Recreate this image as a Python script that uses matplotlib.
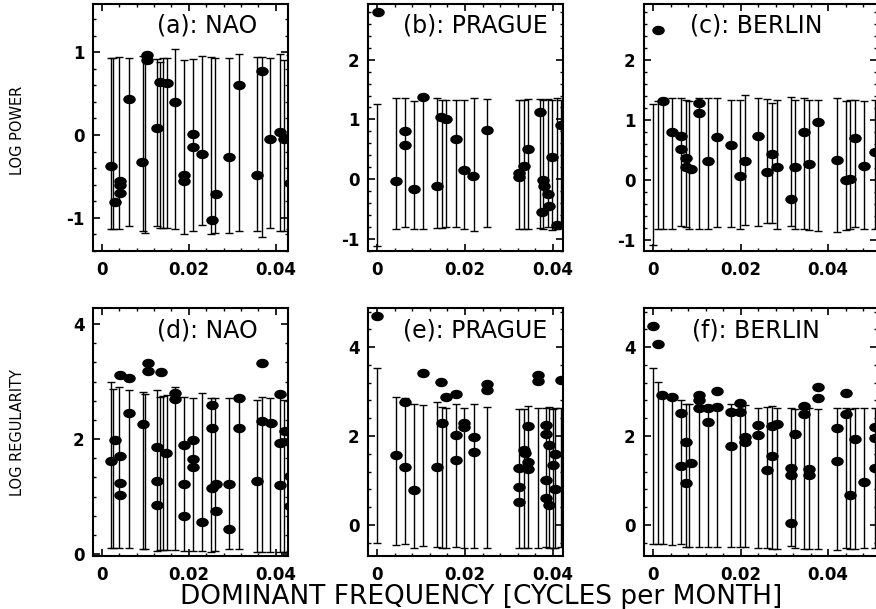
import matplotlib
matplotlib.use("Agg")
import matplotlib.pyplot as plt
import numpy as np
from matplotlib.path import Path
from matplotlib.transforms import Affine2D
from matplotlib.ticker import MultipleLocator

plt.rcParams['font.family'] = 'DejaVu Sans'
plt.rcParams['axes.unicode_minus'] = False

# ---------------- (a) NAO, log power ----------------
a_freq = [0.0020, 0.0030, 0.0041, 0.0041, 0.0041, 0.0063, 0.0093, 0.0103, 0.0104, 0.0127,
          0.0134, 0.0150, 0.0168, 0.0190, 0.0190, 0.0209, 0.0209, 0.0231, 0.0253, 0.0262,
          0.0293, 0.0316, 0.0356, 0.0368, 0.0387, 0.0410, 0.0420, 0.0433]
a_val = [-0.37, -0.81, -0.55, -0.60, -0.70, 0.44, -0.32, 0.96, 0.91, 0.09,
         0.64, 0.63, 0.40, -0.48, -0.55, 0.01, -0.15, -0.23, -1.02, -0.71,
         -0.26, 0.60, -0.48, 0.77, -0.05, 0.03, -0.05, -0.58]
a_bar_freq = [0.0020, 0.0025, 0.0040, 0.0063, 0.0095, 0.0099, 0.0126, 0.0134, 0.0140, 0.0150,
              0.0168, 0.0190, 0.0209, 0.0230, 0.0250, 0.0260, 0.0293, 0.0316, 0.0356, 0.0368,
              0.0387, 0.0410, 0.0420, 0.0432]
a_bar_hi = [0.93, 0.93, 0.94, 0.93, 0.95, 0.94, 0.92, 0.88, 0.93, 0.93,
            1.04, 0.90, 0.92, 0.95, 0.94, 0.93, 0.93, 0.98, 0.94, 0.94,
            0.93, 0.98, 0.90, 0.96]
a_bar_lo = [-1.13, -1.14, -1.14, -1.10, -1.16, -1.18, -1.10, -1.12, -1.12, -1.12,
            -1.14, -1.20, -1.16, -1.08, -1.20, -1.18, -1.18, -1.16, -1.16, -1.23,
            -1.12, -1.16, -1.16, -1.14]

# ---------------- (b) PRAGUE, log power ----------------
b_freq = [0.0003, 0.0043, 0.0064, 0.0064, 0.0085, 0.0105, 0.0137, 0.0145, 0.0157, 0.0179,
          0.0198, 0.0219, 0.0249, 0.0323, 0.0323, 0.0333, 0.0344, 0.0370, 0.0378, 0.0380,
          0.0388, 0.0390, 0.0376, 0.0398, 0.0410, 0.0418]
b_val = [2.80, -0.03, 0.80, 0.57, -0.17, 1.38, -0.11, 1.04, 1.00, 0.67,
         0.16, 0.05, 0.83, 0.10, 0.04, 0.22, 0.51, 1.13, -0.02, -0.12,
         -0.25, -0.45, -0.55, 0.38, -0.77, 0.90]
b_bar_freq = [0.0001, 0.0043, 0.0064, 0.0084, 0.0105, 0.0137, 0.0147, 0.0157, 0.0179, 0.0198,
              0.0220, 0.0249, 0.0323, 0.0333, 0.0344, 0.0370, 0.0378, 0.0388, 0.0398, 0.0410,
              0.0418]
b_bar_hi = [1.25, 1.36, 1.36, 1.31, 1.38, 1.36, 1.32, 1.32, 1.33, 1.33,
            1.36, 1.35, 1.33, 1.33, 1.35, 1.34, 1.33, 1.35, 1.33, 1.36,
            1.32]
b_bar_lo = [-1.11, -0.84, -0.79, -0.84, -0.84, -0.82, -0.81, -0.79, -0.80, -0.84,
            -0.87, -0.80, -0.84, -0.83, -0.83, -0.82, -0.84, -0.80, -0.85, -0.83,
            -0.82]

# ---------------- (c) BERLIN, log power ----------------
c_freq = [0.0012, 0.0022, 0.0043, 0.0063, 0.0063, 0.0075, 0.0075, 0.0086, 0.0105, 0.0105,
          0.0125, 0.0147, 0.0179, 0.0199, 0.0210, 0.0241, 0.0261, 0.0273, 0.0284, 0.0315,
          0.0325, 0.0344, 0.0357, 0.0376, 0.0420, 0.0441, 0.0450, 0.0462, 0.0482, 0.0507]
c_val = [2.50, 1.32, 0.80, 0.73, 0.51, 0.36, 0.21, 0.18, 1.28, 1.12,
         0.31, 0.72, 0.58, 0.07, 0.32, 0.74, 0.14, 0.44, 0.22, -0.32,
         0.22, 0.80, 0.26, 0.96, 0.33, 0.01, 0.02, 0.70, 0.24, 0.47]
c_bar_freq = [0.0001, 0.0012, 0.0022, 0.0043, 0.0063, 0.0075, 0.0083, 0.0105, 0.0125, 0.0146,
              0.0178, 0.0199, 0.0210, 0.0241, 0.0261, 0.0273, 0.0283, 0.0315, 0.0325, 0.0344,
              0.0357, 0.0376, 0.0420, 0.0441, 0.0450, 0.0462, 0.0482, 0.0507]
c_bar_hi = [1.26, 1.32, 1.36, 1.37, 1.36, 1.33, 1.32, 1.37, 1.37, 1.37,
            1.33, 1.34, 1.42, 1.36, 1.35, 1.29, 1.33, 1.39, 1.34, 1.36,
            1.34, 1.33, 1.36, 1.32, 1.34, 1.34, 1.32, 1.34]
c_bar_lo = [-1.08, -0.82, -0.82, -0.82, -0.77, -0.78, -0.82, -0.82, -0.82, -0.78,
            -0.78, -0.82, -0.75, -0.77, -0.72, -0.71, -0.81, -0.77, -0.82, -0.82,
            -0.83, -0.85, -0.86, -0.83, -0.82, -0.78, -0.82, -0.82]

# ---------------- (d) NAO, log regularity ----------------
d_freq = [0.0020, 0.0030, 0.0041, 0.0041, 0.0041, 0.0041, 0.0063, 0.0063, 0.0094, 0.0105,
          0.0105, 0.0126, 0.0126, 0.0126, 0.0135, 0.0147, 0.0168, 0.0168, 0.0190, 0.0190,
          0.0190, 0.0210, 0.0210, 0.0210, 0.0231, 0.0253, 0.0253, 0.0253, 0.0263, 0.0263,
          0.0293, 0.0293, 0.0316, 0.0316, 0.0356, 0.0368, 0.0368, 0.0389, 0.0410, 0.0410,
          0.0410, 0.0422, 0.0433, 0.0433, 0.0433]
d_val = [1.62, 1.98, 3.11, 1.71, 1.23, 1.03, 3.06, 2.45, 2.26, 3.33,
         3.18, 1.87, 1.27, 0.85, 3.17, 1.75, 2.81, 2.69, 1.90, 1.22,
         0.66, 1.98, 1.66, 1.51, 0.55, 2.59, 2.20, 1.15, 1.22, 0.74,
         1.22, 0.43, 2.71, 2.19, 1.27, 3.32, 2.31, 2.28, 2.78, 1.93,
         1.20, 2.14, 1.95, 1.36, 0.83]
d_bar_freq = a_bar_freq
d_bar_hi = [3.00, 2.87, 2.90, 2.85, 2.82, 2.78, 2.85, 2.73, 2.75, 2.77,
            2.90, 2.74, 2.71, 2.80, 2.72, 2.72, 2.71, 2.75, 2.68, 2.73,
            2.71, 2.75, 2.68, 2.77]
d_bar_lo = [0.10, 0.10, 0.10, 0.10, 0.08, 0.08, 0.06, 0.07, 0.07, 0.07,
            0.07, 0.05, 0.05, 0.05, 0.04, 0.05, 0.08, 0.08, 0.04, 0.04,
            0.04, 0.04, 0.04, 0.05]

# ---------------- (e) PRAGUE, log regularity ----------------
e_freq = [0.0001, 0.0043, 0.0064, 0.0064, 0.0085, 0.0105, 0.0136, 0.0145, 0.0147, 0.0157,
          0.0179, 0.0179, 0.0179, 0.0198, 0.0198, 0.0220, 0.0220, 0.0249, 0.0249, 0.0323,
          0.0323, 0.0323, 0.0333, 0.0336, 0.0344, 0.0344, 0.0344, 0.0367, 0.0367, 0.0385,
          0.0385, 0.0390, 0.0405, 0.0400, 0.0385, 0.0405, 0.0385, 0.0390, 0.0418]
e_val = [4.70, 1.57, 2.76, 1.30, 0.79, 3.41, 1.30, 3.21, 2.30, 2.87,
         2.94, 2.02, 1.46, 2.30, 2.20, 1.97, 1.65, 3.18, 3.03, 1.29,
         0.85, 0.52, 1.69, 1.61, 2.23, 1.41, 1.25, 3.37, 3.24, 2.25,
         2.05, 1.80, 1.60, 1.35, 1.00, 0.80, 0.60, 0.45, 3.25]
e_bar_freq = [0.0001, 0.0043, 0.0064, 0.0084, 0.0105, 0.0137, 0.0147, 0.0157, 0.0179, 0.0198,
              0.0220, 0.0249, 0.0323, 0.0333, 0.0344, 0.0367, 0.0385, 0.0390, 0.0400, 0.0405,
              0.0418]
e_bar_hi = [3.52, 2.87, 2.85, 2.73, 2.70, 2.76, 2.66, 2.63, 2.72, 2.63,
            2.72, 2.66, 2.60, 2.60, 2.68, 2.64, 2.62, 2.66, 2.61, 2.63,
            2.62]
e_bar_lo = [-0.41, -0.45, -0.43, -0.52, -0.48, -0.50, -0.51, -0.51, -0.50, -0.52,
            -0.52, -0.51, -0.52, -0.52, -0.52, -0.51, -0.50, -0.52, -0.51, -0.52,
            -0.50]

# ---------------- (f) BERLIN, log regularity ----------------
f_freq = [0.0001, 0.0012, 0.0021, 0.0043, 0.0064, 0.0064, 0.0075, 0.0075, 0.0086, 0.0105,
          0.0105, 0.0105, 0.0126, 0.0126, 0.0147, 0.0147, 0.0178, 0.0178, 0.0199, 0.0199,
          0.0210, 0.0210, 0.0241, 0.0241, 0.0261, 0.0271, 0.0273, 0.0283, 0.0315, 0.0315,
          0.0315, 0.0325, 0.0344, 0.0344, 0.0357, 0.0357, 0.0376, 0.0376, 0.0420, 0.0420,
          0.0441, 0.0441, 0.0450, 0.0462, 0.0482, 0.0507, 0.0507, 0.0507]
f_val = [4.47, 4.06, 2.92, 2.87, 2.51, 1.33, 1.86, 0.95, 1.40, 2.92,
         2.82, 2.64, 2.64, 2.32, 3.02, 2.66, 2.53, 1.78, 2.75, 2.53,
         1.98, 1.87, 2.25, 2.02, 1.24, 2.22, 1.56, 2.27, 1.29, 1.12,
         0.05, 2.04, 2.67, 2.49, 1.25, 1.12, 3.11, 2.85, 2.17, 1.44,
         2.96, 2.49, 0.67, 1.93, 0.97, 2.21, 1.95, 1.29]
f_bar_freq = c_bar_freq
f_bar_hi = [3.52, 3.22, 2.92, 2.87, 2.81, 2.73, 2.71, 2.70, 2.68, 2.71,
            2.71, 2.73, 2.70, 2.64, 2.66, 2.68, 2.62, 2.62, 2.60, 2.66,
            2.64, 2.60, 2.62, 2.62, 2.60, 2.62, 2.62, 2.62]
f_bar_lo = [-0.43, -0.43, -0.43, -0.45, -0.44, -0.50, -0.50, -0.49, -0.49, -0.50,
            -0.50, -0.50, -0.49, -0.52, -0.52, -0.55, -0.55, -0.48, -0.52, -0.55,
            -0.55, -0.55, -0.56, -0.52, -0.55, -0.55, -0.52, -0.52]

titles = ['(a): NAO', '(b): PRAGUE', '(c): BERLIN', '(d): NAO', '(e): PRAGUE', '(f): BERLIN']
x_ticks = [0, 0.02, 0.04]
x_tick_labels = ['0', '0.02', '0.04']
power_ticks_a = [-1, 0, 1]
power_ticks_bc = [-1, 0, 1, 2]
regularity_ticks = [0, 2, 4]

# panel table: data, axes rect (figure fraction), limits, ticks, title spot
panels = [
    (a_freq, a_val, a_bar_freq, a_bar_lo, a_bar_hi, [0.1062, 0.5878, 0.2226, 0.4056],
     (-0.00207, 0.04286), (-1.40, 1.58), power_ticks_a, 0.2, (0.328, 0.915)),
    (b_freq, b_val, b_bar_freq, b_bar_lo, b_bar_hi, [0.4201, 0.5878, 0.2226, 0.4056],
     (-0.00205, 0.04227), (-1.20, 2.93), power_ticks_bc, 0.2, (0.179, 0.915)),
    (c_freq, c_val, c_bar_freq, c_bar_lo, c_bar_hi, [0.7352, 0.5878, 0.2660, 0.4056],
     (-0.00206, 0.0512), (-1.18, 2.93), power_ticks_bc, 0.2, (0.197, 0.915)),
    (d_freq, d_val, d_bar_freq, d_bar_lo, d_bar_hi, [0.1062, 0.0870, 0.2226, 0.4072],
     (-0.00207, 0.04286), (-0.035, 4.28), regularity_ticks, 1 / 3, (0.328, 0.911)),
    (e_freq, e_val, e_bar_freq, e_bar_lo, e_bar_hi, [0.4201, 0.0870, 0.2226, 0.4072],
     (-0.00205, 0.04227), (-0.70, 4.88), regularity_ticks, 0.4, (0.179, 0.911)),
    (f_freq, f_val, f_bar_freq, f_bar_lo, f_bar_hi, [0.7352, 0.0870, 0.2660, 0.4072],
     (-0.00206, 0.0512), (-0.70, 4.88), regularity_ticks, 0.4, (0.206, 0.911)),
]

# squashed ellipse for the dots
dot = Path.unit_circle().transformed(Affine2D().scale(1.0, 0.72))

fig = plt.figure(figsize=(8.76, 6.09), dpi=100)

for i, (fx, fy, bx, blo, bhi, rect, xl, yl, yt, ymin, tpos) in enumerate(panels):
    ax = fig.add_axes(rect)
    bx = np.array(bx)
    blo = np.array(blo)
    bhi = np.array(bhi)
    ax.errorbar(bx, (blo + bhi) / 2, yerr=(bhi - blo) / 2, fmt='none',
                ecolor='black', elinewidth=1.0, capsize=3, capthick=1.0, zorder=2)
    ax.plot(fx, fy, linestyle='none', marker=dot, markersize=8,
            color='black', zorder=3)
    ax.set_xlim(*xl)
    ax.set_ylim(*yl)
    ax.set_xticks(x_ticks)
    ax.set_xticklabels(x_tick_labels)
    ax.xaxis.set_minor_locator(MultipleLocator(0.004))
    ax.set_yticks(yt)
    ax.set_yticklabels([str(v) for v in yt])
    ax.yaxis.set_minor_locator(MultipleLocator(ymin))
    ax.tick_params(which='both', direction='in', top=True, right=True)
    ax.tick_params(which='major', length=5, width=1.2)
    ax.tick_params(which='minor', length=2.5, width=1.0)
    ax.tick_params(axis='x', pad=7.5)
    ax.tick_params(axis='y', pad=6)
    for lab in ax.get_xticklabels() + ax.get_yticklabels():
        lab.set_fontsize(12)
        lab.set_fontweight('bold')
    for s in ax.spines.values():
        s.set_linewidth(1.5)
    ax.text(tpos[0], tpos[1], titles[i], transform=ax.transAxes,
            ha='left', va='center', fontsize=17)

fig.text(18 / 876, 1 - 130 / 609, 'LOG POWER', rotation=90,
         ha='center', va='center', fontsize=10.5)
fig.text(18 / 876, 1 - 432 / 609, 'LOG REGULARITY', rotation=90,
         ha='center', va='center', fontsize=10.5)
fig.text(481 / 876, 1 - 597 / 609, 'DOMINANT FREQUENCY [CYCLES per MONTH]',
         ha='center', va='center', fontsize=19)

fig.savefig('out.png', dpi=100)
